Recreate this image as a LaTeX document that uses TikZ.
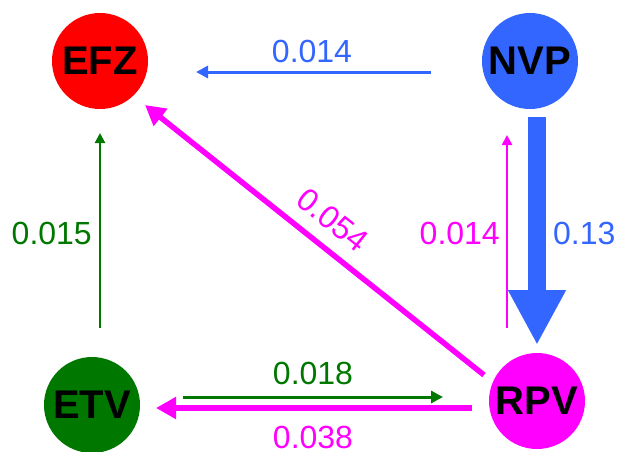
\documentclass[tikz,border=0pt]{standalone}
\usepackage{fontspec}
\setmainfont{Liberation Sans}
\usetikzlibrary{arrows.meta,calc}
\definecolor{cred}{RGB}{255,0,0}
\definecolor{cblue}{RGB}{51,102,255}
\definecolor{cgreen}{RGB}{0,120,0}
\definecolor{cmag}{RGB}{255,0,255}
\tikzset{
  state/.style={circle,minimum size=96pt,inner sep=0pt,font=\fontsize{40}{40}\selectfont\bfseries,text=black},
  lbl/.style={font=\fontsize{32}{32}\selectfont,inner sep=0pt},
  thinarr/.style={-{Triangle[length=10pt,width=10pt]},line width=2.2pt},
  medarr/.style={-{Triangle[length=12pt,width=12pt]},line width=3pt},
  fatarr/.style={-{Triangle[length=20pt,width=21pt]},line width=5.5pt},
  hugearr/.style={-{Triangle[length=55pt,width=54pt]},line width=18pt},
}
\begin{document}
\begin{tikzpicture}[x=1pt,y=-1pt]
\useasboundingbox (0,0) rectangle (618,451);
\node[state,fill=cred]   (EFZ) at (100,61)  {EFZ};
\node[state,fill=cblue]  (NVP) at (530,61)  {NVP};
\node[state,fill=cgreen] (ETV) at (92,405)  {ETV};
\node[state,fill=cmag]   (RPV) at (537,401) {RPV};
% NVP -> EFZ
\draw[medarr,cblue] ($(NVP)+(-99,11)$) -- ($(EFZ)+(96,11)$);
\node[lbl,text=cblue] (l1) at (312,51) {0.014};
% NVP -> RPV
\draw[hugearr,cblue] ($(NVP)+(7,56)$) -- ($(RPV)+(0,-56)$);
\node[lbl,text=cblue,anchor=west] (l2) at (553,233) {0.13};
% RPV -> NVP
\draw[thinarr,cmag] ($(RPV)+(-30,-73)$) -- ($(NVP)+(-23,74)$);
\node[lbl,text=cmag,anchor=east] (l3) at (500,233) {0.014};
% RPV -> EFZ
\draw[fatarr,cmag] ($(RPV)+(-53,-26)$) -- ($(EFZ)+(45,44)$);
\node[lbl,text=cmag,rotate=-38.6] (l4) at (333,220) {0.054};
% ETV -> EFZ
\draw[thinarr,cgreen] ($(ETV)+(8,-77)$) -- ($(EFZ)+(0,72)$);
\node[lbl,text=cgreen,anchor=east] (l5) at (92,233) {0.015};
% ETV -> RPV
\draw[medarr,cgreen] ($(ETV)+(91,-8)$) -- ($(RPV)+(-94,-4)$);
\node[lbl,text=cgreen] (l6) at (313,373) {0.018};
% RPV -> ETV
\draw[fatarr,cmag] ($(RPV)+(-65,7)$) -- ($(ETV)+(64,3)$);
\node[lbl,text=cmag] (l7) at (313,437) {0.038};
\end{tikzpicture}
\end{document}
